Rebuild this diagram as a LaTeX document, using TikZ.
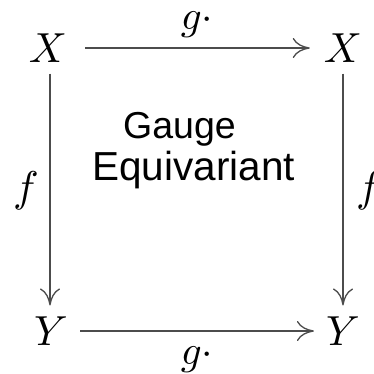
\documentclass[tikz,border=0pt]{standalone}
\usepackage{graphicx}
\usepackage{fontspec}
\newfontfamily\labelfont{Liberation Sans}
\usetikzlibrary{arrows.meta}
\newcommand{\myscaledmath}[2]{\scalebox{#1}{$#2$}}
\begin{document}
\begin{tikzpicture}[x=1pt,y=1pt,
  obj/.style={inner sep=0pt},
  lab/.style={inner sep=0pt,anchor=base},
  txt/.style={inner sep=0pt,font=\labelfont\fontsize{#1}{#1}\selectfont,anchor=base west},
  arr/.style={draw=black!70,line width=1.3pt,-{To[length=17pt,width=20pt]}}]
\useasboundingbox (0,0) rectangle (374,-373);
\node[obj] (xl) at (48,-48) {\myscaledmath{4.2}{X}};
\node[obj] (xr) at (343,-48) {\myscaledmath{4.2}{X}};
\node[obj] (yl) at (51,-331) {\myscaledmath{4.2}{Y}};
\node[obj] (yr) at (343,-331) {\myscaledmath{4.2}{Y}};
\draw[arr,shorten <=18pt,shorten >=14pt] (xl.east) -- (xr.west);
\draw[arr,shorten <=12pt,shorten >=12pt] (yl.east) -- (yr.west);
\draw[arr,shorten <=11pt,shorten >=11pt] ([xshift=2pt]xl.south) -- ([xshift=-1pt]yl.north);
\draw[arr,shorten <=11pt,shorten >=11pt] (xr.south) -- (yr.north);
\node[lab] (gt) at (197,-29) {\myscaledmath{4.1}{g\cdot}};
\node[lab] (gb) at (197,-364) {\myscaledmath{4.1}{g\cdot}};
\node[lab] (fl) at (26,-201) {\myscaledmath{4.3}{f}};
\node[lab] (fr) at (369,-201) {\myscaledmath{4.3}{f}};
\node[txt=37.5] (t1) at (123,-138) {Gauge};
\node[txt=40.5] (t2) at (92,-180) {Equivariant};
\end{tikzpicture}
\end{document}
